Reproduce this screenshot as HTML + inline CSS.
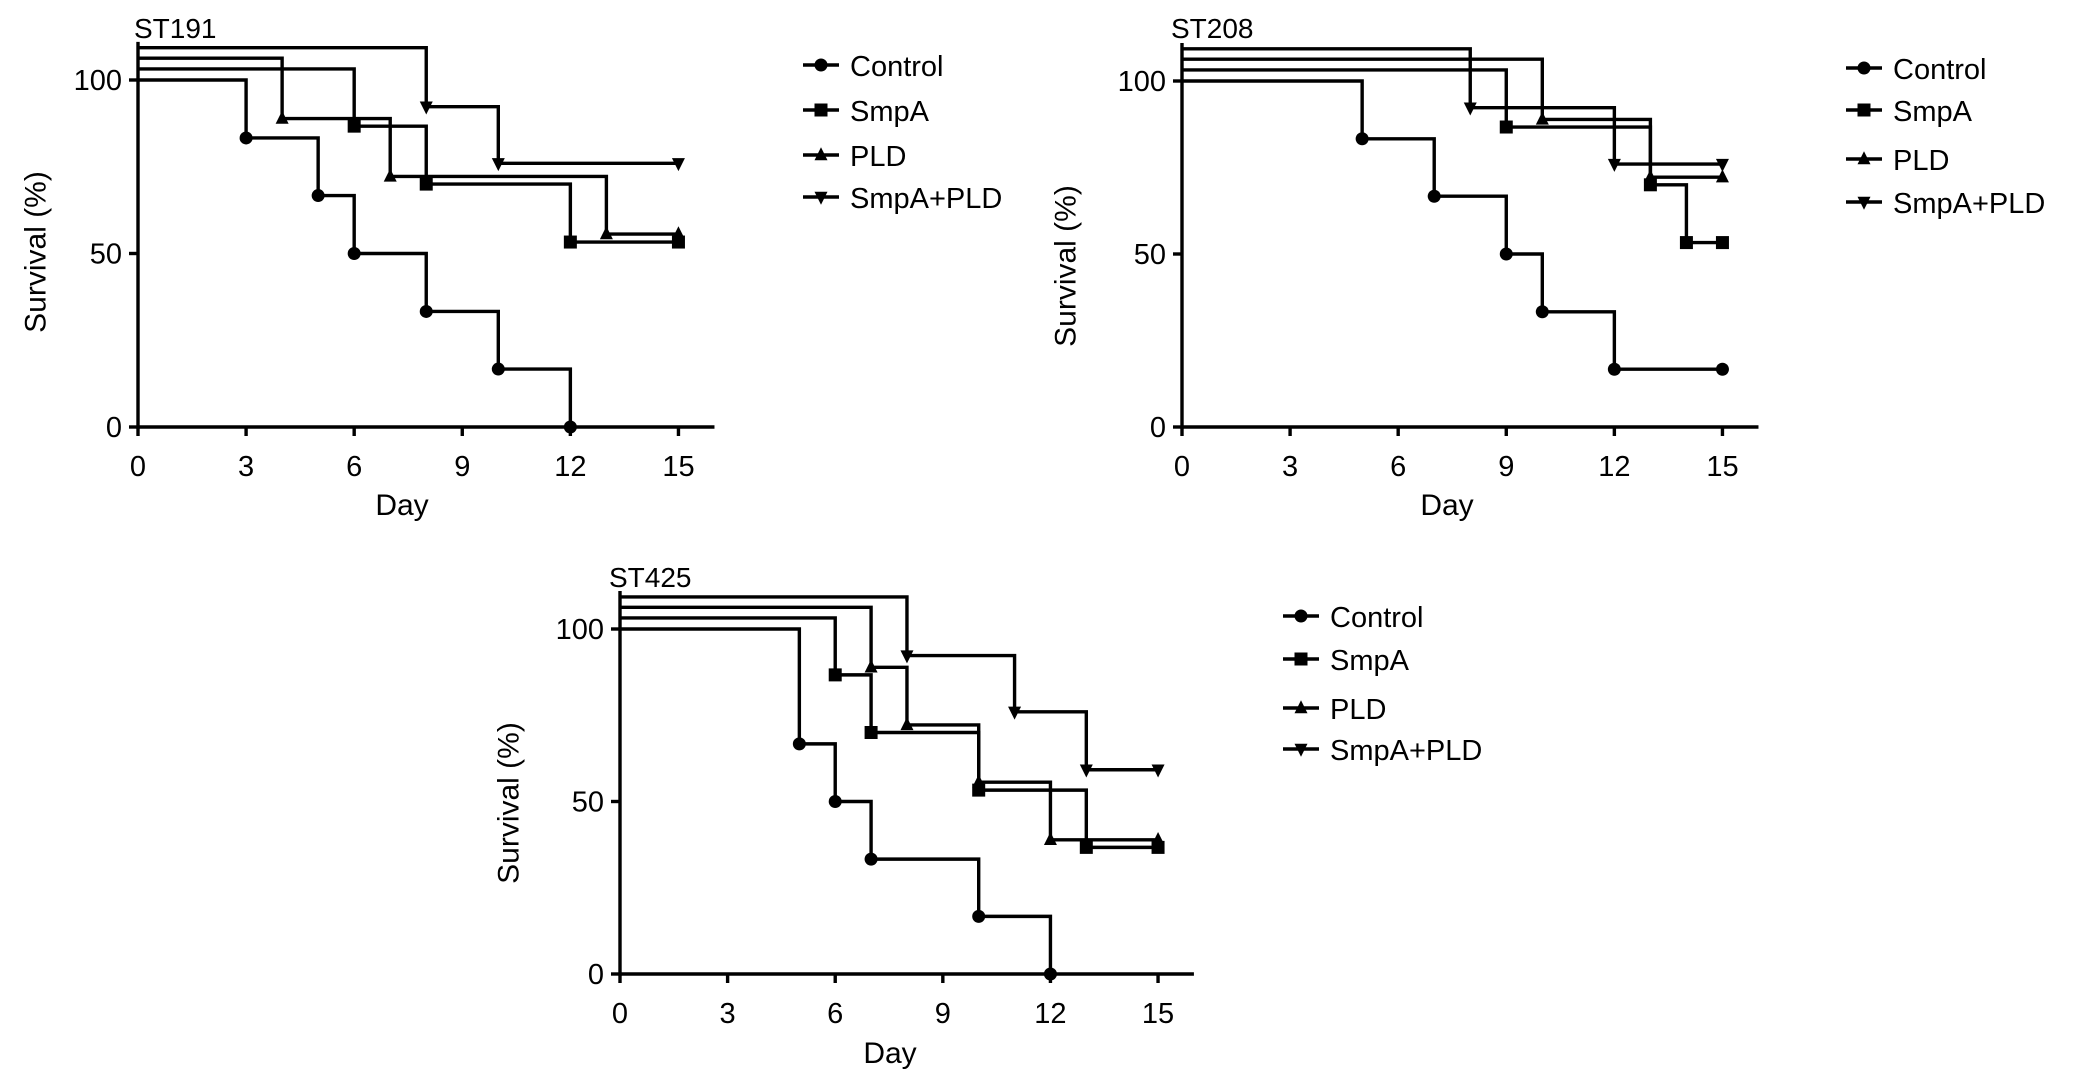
<!DOCTYPE html>
<html><head><meta charset="utf-8"><style>
html,body{margin:0;padding:0;background:#fff;}
svg{display:block;font-family:"Liberation Sans",Arial,sans-serif;}
</style></head><body>
<svg id="fig" width="2082" height="1080" viewBox="0 0 2082 1080" xmlns="http://www.w3.org/2000/svg"></svg>
<script>
// ---- data ----
const seriesNames = ["Control","SmpA","PLD","SmpA+PLD"];
const markerTypes = ["circle","square","up","down"];
const xTicks = [0,3,6,9,12,15];
const yTicks = [0,50,100];
const startOffsets = [100,103.2,106.3,109.3];

const st191Days = [[3,5,6,8,10,12],[6,8,12,15],[4,7,13,15],[8,10,15]];
const st191Vals = [[83.3,66.7,50,33.3,16.7,0],[86.7,70,53.3,53.3],[88.9,72.2,55.6,55.6],[92.3,76,76]];
const st208Days = [[5,7,9,10,12,15],[9,13,14,15],[10,13,15],[8,12,15]];
const st208Vals = [[83.3,66.7,50,33.3,16.7,16.7],[86.7,70,53.3,53.3],[88.9,72.2,72.2],[92.3,76,76]];
const st425Days = [[5,6,7,10,12],[6,7,10,13,15],[7,8,10,12,15],[8,11,13,15]];
const st425Vals = [[66.7,50,33.3,16.7,0],[86.7,70,53.3,36.7,36.7],[88.9,72.2,55.6,38.9,38.9],[92.3,76,59.2,59.2]];

const panels = [
 {name:"ST191",days:st191Days,vals:st191Vals,x0:138,xs:36.03,y0:427,y100:80,leg:[803,[65,110,155,197]],ytc:[36,252],dayc:[402,515],tx:[134,38]},
 {name:"ST208",days:st208Days,vals:st208Vals,x0:1182,xs:36.03,y0:427,y100:81,leg:[1846,[68,110,159,202]],ytc:[1066,266],dayc:[1447,515],tx:[1171,38]},
 {name:"ST425",days:st425Days,vals:st425Vals,x0:620,xs:35.87,y0:974,y100:629,leg:[1283,[616,659,708,749]],ytc:[509,803],dayc:[890,1063],tx:[609,587]}
];

const svg = document.getElementById('fig');
const NS = "http://www.w3.org/2000/svg";
const LW = 3.4, MS = 13;
function mk(tag, attrs, parent){
  const e = document.createElementNS(NS, tag);
  for (const k in attrs) e.setAttribute(k, attrs[k]);
  (parent||svg).appendChild(e);
  return e;
}
function marker(g, type, x, y, s){
  let e;
  if (type==="circle") e = mk('circle',{cx:x,cy:y,r:s*0.5,fill:'#000'},g);
  else if (type==="square") e = mk('rect',{x:x-s*0.5,y:y-s*0.5,width:s,height:s,fill:'#000'},g);
  else if (type==="up") e = mk('polygon',{points:`${x},${y-s*0.6} ${x-s*0.5},${y+s*0.4} ${x+s*0.5},${y+s*0.4}`,fill:'#000'},g);
  else e = mk('polygon',{points:`${x},${y+s*0.6} ${x-s*0.5},${y-s*0.4} ${x+s*0.5},${y-s*0.4}`,fill:'#000'},g);
  return e;
}

panels.forEach((p, pi) => {
  const X = d => p.x0 + d*p.xs;
  const Y = v => p.y0 - (p.y0-p.y100)*v/100;
  const g = mk('g',{});
  
  

  const t = mk('text',{x:p.tx[0],y:p.tx[1],'font-size':28,fill:'#000'},g);
  t.textContent = p.name;
  
  

  const ax = mk('line',{x1:X(0),y1:Y(0),x2:X(16),y2:Y(0),stroke:'#000','stroke-width':LW},g);
  
  
  const ay = mk('line',{x1:X(0),y1:Y(0)+1.7,x2:X(0),y2:Y(111),stroke:'#000','stroke-width':LW},g);
  
  
  xTicks.forEach(d => {
    mk('line',{x1:X(d),y1:Y(0),x2:X(d),y2:Y(0)+9,stroke:'#000','stroke-width':LW},g);
    const tl = mk('text',{x:X(d),y:Y(0)+49,'font-size':29,'text-anchor':'middle',fill:'#000'},g);
    tl.textContent = d;
    
    
  });
  yTicks.forEach(v => {
    mk('line',{x1:X(0)-9,y1:Y(v),x2:X(0),y2:Y(v),stroke:'#000','stroke-width':LW},g);
    const tl = mk('text',{x:X(0)-16,y:Y(v)+10,'font-size':29,'text-anchor':'end',fill:'#000'},g);
    tl.textContent = v;
    
    
  });
  const yt = mk('text',{x:p.ytc[0],y:p.ytc[1],'font-size':30,'text-anchor':'middle','dominant-baseline':'central',transform:`rotate(-90 ${p.ytc[0]} ${p.ytc[1]})`,fill:'#000'},g);
  yt.textContent = 'Survival (%)';
  
  
  const xt = mk('text',{x:p.dayc[0],y:p.dayc[1],'font-size':30,'text-anchor':'middle',fill:'#000'},g);
  xt.textContent = 'Day';
  
  

  seriesNames.forEach((sn, si) => {
    const days = p.days[si], vals = p.vals[si];
    let d = `M${X(0)},${Y(startOffsets[si])}`;
    days.forEach((dd, k) => {
      d += ` H${X(dd)} V${Y(vals[k])}`;
    });
    const path = mk('path',{d:d,fill:'none',stroke:'#000','stroke-width':LW,'stroke-linejoin':'miter'},g);
    
    
    days.forEach((dd, k) => {
      const m = marker(g, markerTypes[si], X(dd), Y(vals[k]), MS);
      
      
    });
    const lx = p.leg[0], ly = p.leg[1][si];
    const lg = mk('g',{},g);
    
    
    mk('line',{x1:lx,y1:ly,x2:lx+36,y2:ly,stroke:'#000','stroke-width':LW},lg);
    marker(lg, markerTypes[si], lx+18, ly, MS);
    const lt = mk('text',{x:lx+47,y:ly+11,'font-size':29,fill:'#000'},lg);
    lt.textContent = sn;
  });
});
</script>
</body></html>
